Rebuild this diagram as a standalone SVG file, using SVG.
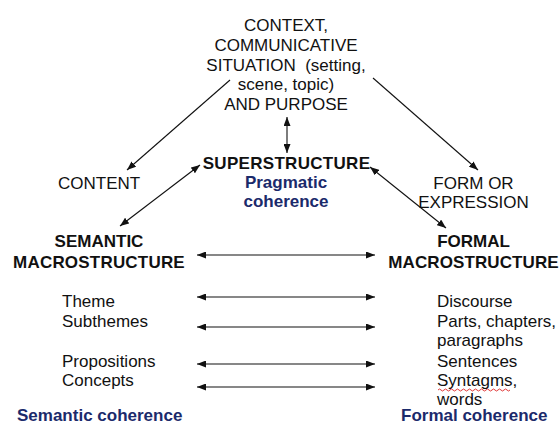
<svg xmlns="http://www.w3.org/2000/svg" width="560" height="425" viewBox="0 0 560 425">
  <style>
    text { font-family: "Liberation Sans", Arial, sans-serif; font-size: 17px; fill: #111; }
    .b { font-weight: bold; }
    .blue { fill: #1b2a6b; font-weight: bold; }
    .c { text-anchor: middle; }
    .conn line { stroke: #111; stroke-width: 1.1; fill: none; }
  </style>
  <defs>
    <marker id="ah" viewBox="0 0 9 7" refX="9" refY="3.5" markerWidth="9" markerHeight="7" markerUnits="userSpaceOnUse" orient="auto-start-reverse">
      <path d="M0,0 L9,3.5 L0,7 z" fill="#111"/>
    </marker>
  </defs>
  <rect width="560" height="425" fill="#fff"/>

  <g id="context">
    <text class="c" x="286" y="31">CONTEXT,</text>
    <text class="c" x="286" y="51">COMMUNICATIVE</text>
    <text class="c" x="286" y="70.5">SITUATION &#160;(setting,</text>
    <text class="c" x="286" y="90">scene, topic)</text>
    <text class="c" x="286" y="110">AND PURPOSE</text>
  </g>

  <g id="superstructure">
    <text class="c b" x="286.5" y="169" letter-spacing="0.3">SUPERSTRUCTURE</text>
    <text class="c blue" x="286" y="188">Pragmatic</text>
    <text class="c blue" x="286" y="207">coherence</text>
  </g>

  <g id="content">
    <text x="58" y="189">CONTENT</text>
  </g>

  <g id="form">
    <text class="c" x="473.5" y="189">FORM OR</text>
    <text class="c" x="473.5" y="208">EXPRESSION</text>
  </g>

  <g id="semantic-macro">
    <text class="c b" x="99" y="247">SEMANTIC</text>
    <text class="c b" x="99" y="268" letter-spacing="0.2">MACROSTRUCTURE</text>
  </g>

  <g id="formal-macro">
    <text class="c b" x="473.5" y="247">FORMAL</text>
    <text class="c b" x="473.5" y="268" letter-spacing="0.1">MACROSTRUCTURE</text>
  </g>

  <g id="semantic-levels">
    <text x="62" y="307">Theme</text>
    <text x="62" y="326.5">Subthemes</text>
    <text x="62" y="366.5">Propositions</text>
    <text x="62" y="386">Concepts</text>
  </g>

  <g id="formal-levels">
    <text x="437" y="307">Discourse</text>
    <text x="437" y="326.5">Parts, chapters,</text>
    <text x="437" y="345.5">paragraphs</text>
    <text x="437" y="366.5">Sentences</text>
    <text x="437" y="386">Syntagms,</text>
    <text x="437" y="405">words</text>
    <!-- spell-check squiggle under "Syntagms," -->
    <path d="M438,390 q1.5,-2 3,0 t3,0 t3,0 t3,0 t3,0 t3,0 t3,0 t3,0 t3,0 t3,0 t3,0 t3,0 t3,0 t3,0 t3,0 t3,0 t3,0 t3,0 t3,0 t3,0 t3,0 t3,0 t3,0 t3,0" fill="none" stroke="#d22" stroke-width="0.9"/>
  </g>

  <g id="semantic-coherence">
    <text class="blue" x="17" y="421">Semantic coherence</text>
  </g>

  <g id="formal-coherence">
    <text class="blue" x="401" y="421">Formal coherence</text>
  </g>

  <g class="conn" id="connectors">
    <line x1="287" y1="117" x2="287" y2="153" marker-start="url(#ah)" marker-end="url(#ah)"/>
    <line x1="230" y1="80" x2="127" y2="170" marker-end="url(#ah)"/>
    <line x1="373" y1="78" x2="478" y2="170" marker-end="url(#ah)"/>
    <line x1="120" y1="226" x2="200" y2="165" marker-start="url(#ah)" marker-end="url(#ah)"/>
    <line x1="370" y1="167" x2="446" y2="228" marker-start="url(#ah)" marker-end="url(#ah)"/>
    <line x1="197" y1="255" x2="375" y2="255" marker-start="url(#ah)" marker-end="url(#ah)"/>
    <line x1="197" y1="297" x2="375" y2="297" marker-start="url(#ah)" marker-end="url(#ah)"/>
    <line x1="197" y1="327" x2="375" y2="327" marker-start="url(#ah)" marker-end="url(#ah)"/>
    <line x1="197" y1="364" x2="375" y2="364" marker-start="url(#ah)" marker-end="url(#ah)"/>
    <line x1="197" y1="387" x2="375" y2="387" marker-start="url(#ah)" marker-end="url(#ah)"/>
  </g>
</svg>
